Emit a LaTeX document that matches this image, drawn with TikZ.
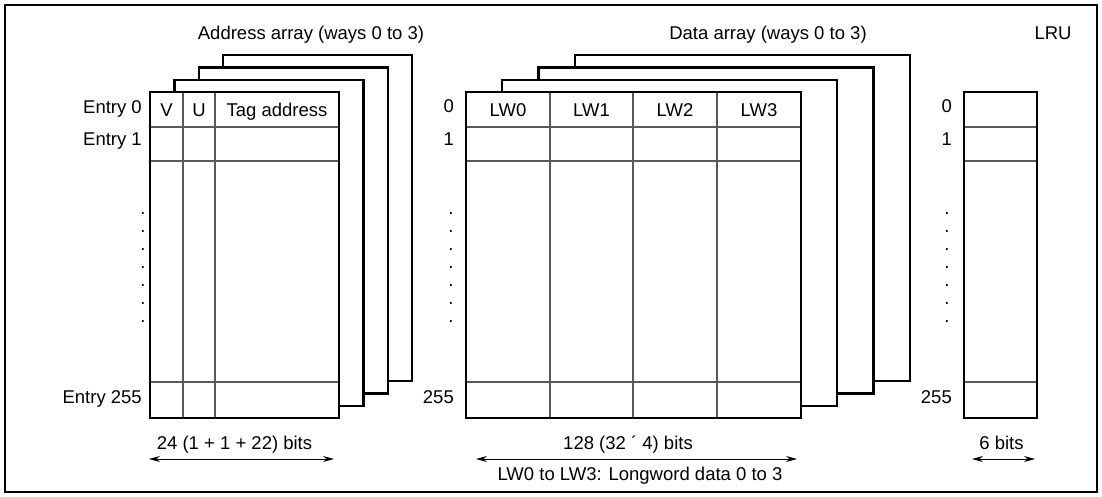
\documentclass[tikz,border=0pt]{standalone}
\usepackage{fontspec}
\setmainfont{Liberation Sans}
\usetikzlibrary{arrows.meta}
\begin{document}
\begin{tikzpicture}[x=1pt,y=-1pt,
  lbl/.style={inner sep=0pt,font=\fontsize{18.5}{22}\selectfont,anchor=base},
  lblr/.style={lbl,anchor=base east},
  frm/.style={draw=black,line width=2.3pt,fill=white},
  gridln/.style={draw=black!65,line width=1.1pt},
  dim/.style={line width=1pt,{Stealth[length=11pt,width=6pt]}-{Stealth[length=11pt,width=6pt]}}]
\useasboundingbox (0,0) rectangle (1102,497);
\draw[line width=2pt] (5,5) rectangle (1097,492);

% titles
\node[lbl] (tA) at (311,40) {Address array (ways 0 to 3)};
\node[lbl] (tD) at (768,40) {Data array (ways 0 to 3)};
\node[lbl] (tL) at (1053,40) {LRU};

% ---------- address array ----------
\foreach \k in {3,2,1} {
  \draw[frm] ({150+24.4*\k},{92-12.3*\k}) rectangle ({339+24.4*\k},{418-12.3*\k});
}
\draw[frm] (150,92) rectangle (339,418);
\draw[gridln] (150,127) -- (339,127);
\draw[gridln] (150,161) -- (339,161);
\draw[gridln] (150,382) -- (339,382);
\draw[gridln] (183,92) -- (183,418);
\draw[gridln] (215,92) -- (215,418);
\draw[line width=2.3pt] (150,92) rectangle (339,418);
\node[lbl] (cV) at (166.5,117) {V};
\node[lbl] (cU) at (199,117) {U};
\node[lbl] (cT) at (277,117) {Tag address};
\node[lblr] (e0) at (142,114) {Entry 0};
\node[lblr] (e1) at (142,146) {Entry 1};
\node[lblr] (e255) at (142,403) {Entry 255};
\foreach \i in {0,...,6} {
  \node[lbl] (ld\i) at (143,{214+18*\i}) {.};
}

% ---------- data array ----------
\foreach \k in {3,2,1} {
  \draw[frm] ({466+36.3*\k},{92-12.3*\k}) rectangle ({801+36.3*\k},{418-12.3*\k});
}
\draw[frm] (466,92) rectangle (801,418);
\draw[gridln] (466,127) -- (801,127);
\draw[gridln] (466,161) -- (801,161);
\draw[gridln] (466,382) -- (801,382);
\draw[gridln] (550,92) -- (550,418);
\draw[gridln] (633,92) -- (633,418);
\draw[gridln] (717,92) -- (717,418);
\draw[line width=2.3pt] (466,92) rectangle (801,418);
\node[lbl] (w0) at (508,117) {LW0};
\node[lbl] (w1) at (591.5,117) {LW1};
\node[lbl] (w2) at (675,117) {LW2};
\node[lbl] (w3) at (759,117) {LW3};
\node[lblr] (d0) at (454,113) {0};
\node[lblr] (d1) at (454,146) {1};
\node[lblr] (d255) at (454,403) {255};
\foreach \i in {0,...,6} {
  \node[lbl] (dd\i) at (451,{214+18*\i}) {.};
}

% ---------- LRU ----------
\draw[frm] (964,92) rectangle (1037,418);
\draw[gridln] (964,127) -- (1037,127);
\draw[gridln] (964,161) -- (1037,161);
\draw[gridln] (964,382) -- (1037,382);
\draw[line width=2.3pt] (964,92) rectangle (1037,418);
\node[lblr] (r0) at (952,113) {0};
\node[lblr] (r1) at (952,146) {1};
\node[lblr] (r255) at (952,403) {255};
\foreach \i in {0,...,6} {
  \node[lbl] (rd\i) at (947,{214+18*\i}) {.};
}

% ---------- widths ----------
\node[lbl] (bA) at (234.5,449) {24 (1 + 1 + 22) bits};
\coordinate (a1) at (149,459);
\coordinate (a2) at (334,459);
\draw[dim] (a1) -- (a2);

\node[lbl] (bD) at (628,449) {128 (32 ´ 4) bits};
\coordinate (b1) at (476,459);
\coordinate (b2) at (797,459);
\draw[dim] (b1) -- (b2);
\node[lbl] (bN) at (640,480) {LW0 to LW3: Longword data 0 to 3};

\node[lbl] (bL) at (1001.5,449) {6 bits};
\coordinate (c1) at (972,459);
\coordinate (c2) at (1035,459);
\draw[dim] (c1) -- (c2);
\end{tikzpicture}
\end{document}
